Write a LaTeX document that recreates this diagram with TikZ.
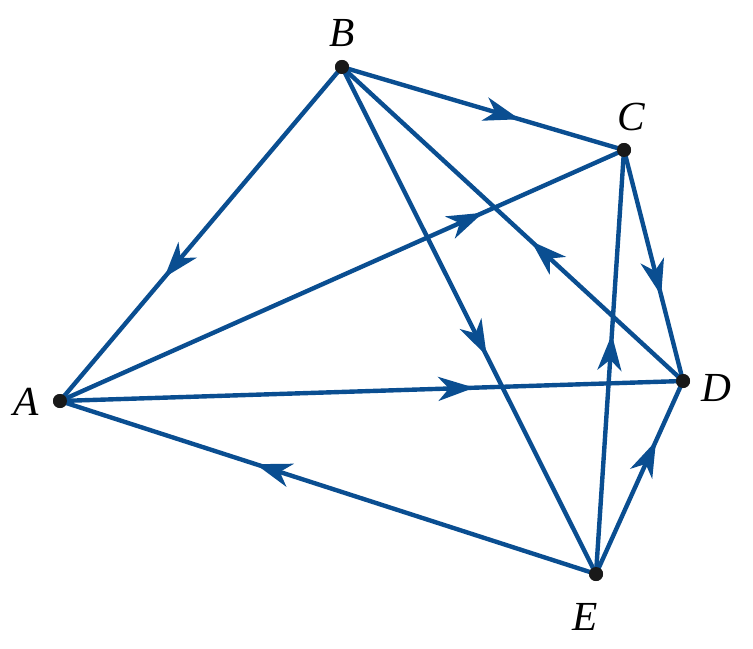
\documentclass[tikz,border=0pt]{standalone}
\usepackage{fontspec}
\setmainfont{Liberation Serif}
\usetikzlibrary{arrows.meta,decorations.markings}
\definecolor{edgeblue}{RGB}{10,78,145}
\tikzset{
  vdot/.style={circle,fill=black!90,inner sep=0pt,minimum size=10.5pt},
  vlabel/.style={font=\fontsize{31}{33}\selectfont\itshape},
  edge/.style={draw=edgeblue,line width=3.3pt},
  midarrow/.style={postaction={decorate,decoration={markings,
    mark=at position #1 with {\arrow[edgeblue]{Stealth[length=27pt,width=18pt,inset=8pt]}}}}}
}
\begin{document}
\begin{tikzpicture}[x=0.75pt,y=-0.75pt]
\useasboundingbox (0,0) rectangle (753,649);
\node[vdot] (A) at (60,401) {};
\node[vdot] (B) at (342,67) {};
\node[vdot] (C) at (624,150) {};
\node[vdot] (D) at (683,381) {};
\node[vdot] (E) at (596,574) {};
\draw[edge,midarrow=0.63] (B.center) -- (C.center);
\draw[edge,midarrow=0.63] (B.center) -- (A.center);
\draw[edge,midarrow=0.75] (A.center) -- (C.center);
\draw[edge,midarrow=0.665] (A.center) -- (D.center);
\draw[edge,midarrow=0.635] (E.center) -- (A.center);
\draw[edge,midarrow=0.57] (B.center) -- (E.center);
\draw[edge,midarrow=0.445] (D.center) -- (B.center);
\draw[edge,midarrow=0.63] (C.center) -- (D.center);
\draw[edge,midarrow=0.565] (E.center) -- (C.center);
\draw[edge,midarrow=0.69] (E.center) -- (D.center);
\node[vdot] at (A) {};
\node[vdot] at (B) {};
\node[vdot] at (C) {};
\node[vdot] at (D) {};
\node[vdot] at (E) {};
\node[vlabel] (lA) at (26,402) {A};
\node[vlabel] (lB) at (342,33) {B};
\node[vlabel] (lC) at (631,117) {C};
\node[vlabel] (lD) at (716,388) {D};
\node[vlabel] (lE) at (585,617) {E};
\end{tikzpicture}
\end{document}
